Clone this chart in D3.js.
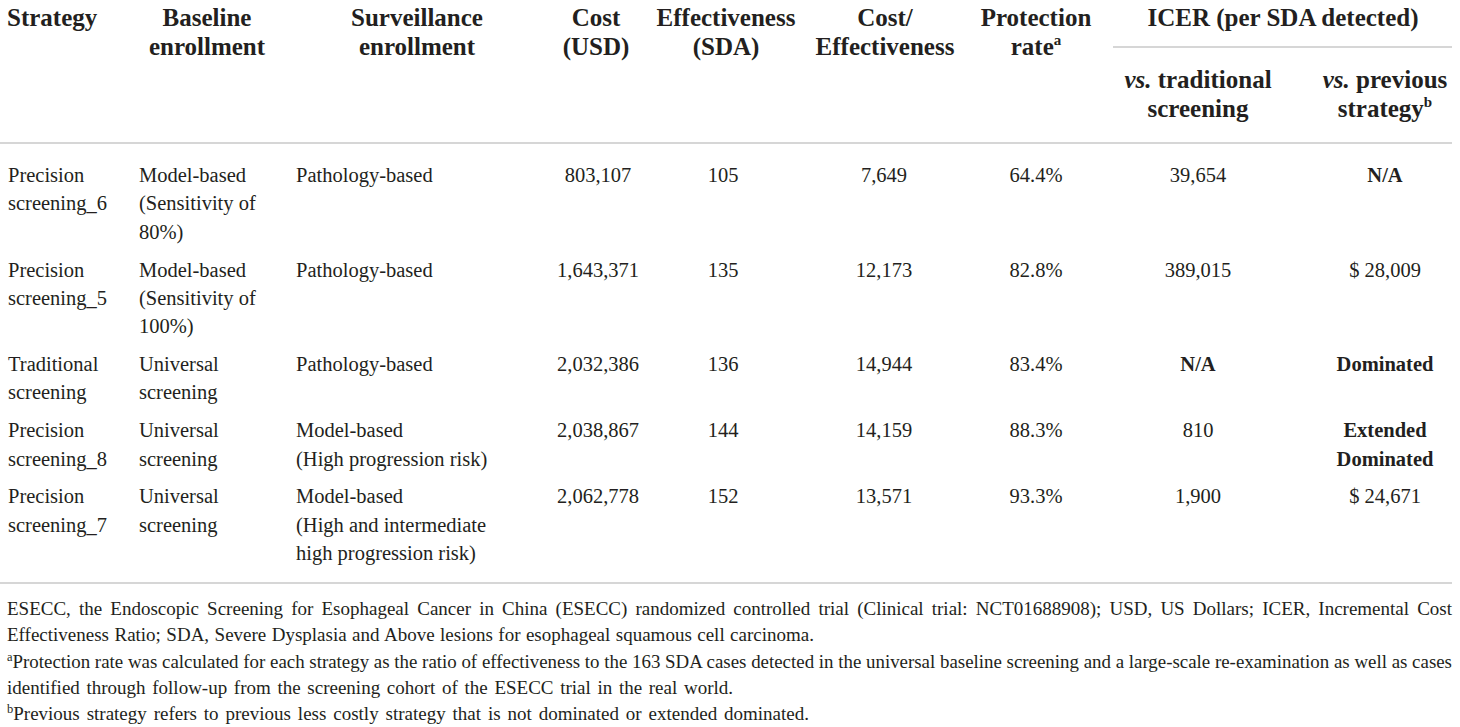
<!DOCTYPE html>
<html>
<head>
<meta charset="utf-8">
<script src="https://cdn.jsdelivr.net/npm/d3@7"></script>
<style>
  html, body { margin: 0; padding: 0; background: #fff; }
  svg { display: block; }
</style>
</head>
<body>
<svg id="chart" width="1460" height="727"></svg>
<script>
// ---------------- DATA ----------------
const strategies = ["Precision\nscreening_6", "Precision\nscreening_5", "Traditional\nscreening", "Precision\nscreening_8", "Precision\nscreening_7"];
const baselineEnrollment = ["Model-based\n(Sensitivity of\n80%)", "Model-based\n(Sensitivity of\n100%)", "Universal\nscreening", "Universal\nscreening", "Universal\nscreening"];
const surveillanceEnrollment = ["Pathology-based", "Pathology-based", "Pathology-based", "Model-based\n(High progression risk)", "Model-based\n(High and intermediate\nhigh progression risk)"];
const costUSD = [803107, 1643371, 2032386, 2038867, 2062778];
const effectivenessSDA = [105, 135, 136, 144, 152];
const costPerEffectiveness = [7649, 12173, 14944, 14159, 13571];
const protectionRate = [64.4, 82.8, 83.4, 88.3, 93.3];
const icerVsTraditional = [39654, 389015, "N/A", 810, 1900];
const icerVsPrevious = ["N/A", 28009, "Dominated", "Extended\nDominated", 24671];

const headerLabels = ["Strategy", "Baseline\nenrollment", "Surveillance\nenrollment", "Cost\n(USD)", "Effectiveness\n(SDA)", "Cost/\nEffectiveness", "Protection\nrate"];
const groupHeader = "ICER (per SDA detected)";
const subHeaders = ["vs.| traditional\nscreening", "vs.| previous\nstrategy"];
const footnotes = [
  {sup: "", text: "ESECC, the Endoscopic Screening for Esophageal Cancer in China (ESECC) randomized controlled trial (Clinical trial: NCT01688908); USD, US Dollars; ICER, Incremental Cost"},
  {sup: "", text: "Effectiveness Ratio; SDA, Severe Dysplasia and Above lesions for esophageal squamous cell carcinoma."},
  {sup: "a", text: "Protection rate was calculated for each strategy as the ratio of effectiveness to the 163 SDA cases detected in the universal baseline screening and a large-scale re-examination as well as cases"},
  {sup: "", text: "identified through follow-up from the screening cohort of the ESECC trial in the real world."},
  {sup: "b", text: "Previous strategy refers to previous less costly strategy that is not dominated or extended dominated."}
];

// ---------------- LAYOUT ----------------
const svg = d3.select("#chart");
const W = 1460;
const FONT = "'Liberation Serif', 'Times New Roman', serif";
const INK = "#231f20";
const RULE = "#c9c9c9";
const HEAD_SIZE = 25;

svg.append("rect").attr("width", W).attr("height", 727).attr("fill", "#fff");

const fmt = d3.format(",");
const fmtPct = d => d.toFixed(1) + "%";
const fmtMoney = d => "$ " + fmt(d);

// columns: x anchor and alignment
const colX = d3.scaleOrdinal()
  .domain(["strategy", "baseline", "surveillance", "cost", "eff", "ce", "prot", "icerT", "icerP"])
  .range([8, 139, 296, 598, 723, 884, 1036, 1198, 1385]);
const headX = d3.scaleOrdinal()
  .domain(["strategy", "baseline", "surveillance", "cost", "eff", "ce", "prot"])
  .range([7, 207, 417, 596, 726, 885, 1036]);
const headAnchor = ["start", "middle", "middle", "middle", "middle", "middle", "middle"];

const headerY = d3.scaleLinear().domain([0, 1]).range([26, 55]);
const lineH = 28.3, rowGap = 9.6, bodyTop = 182;

// ---------- header ----------
const headKeys = headX.domain();
headerLabels.forEach((lab, i) => {
  const lines = lab.split("\n");
  const t = svg.append("text")
    .attr("font-family", FONT).attr("font-weight", "bold").attr("font-size", HEAD_SIZE)
    .attr("fill", INK).attr("text-anchor", headAnchor[i]);
  lines.forEach((ln, j) => {
    t.append("tspan").attr("x", headX(headKeys[i])).attr("y", headerY(j)).text(ln);
    if (i === 6 && j === 1) {
      t.append("tspan").attr("font-size", 15).attr("dy", -10).text("a");
    }
  });
});

svg.append("text")
  .attr("font-family", FONT).attr("font-weight", "bold").attr("font-size", HEAD_SIZE)
  .attr("fill", INK).attr("text-anchor", "middle")
  .attr("x", 1283).attr("y", headerY(0)).text(groupHeader);

svg.append("line").attr("x1", 1113).attr("x2", 1452).attr("y1", 47).attr("y2", 47)
  .attr("stroke", RULE).attr("stroke-width", 1.5);

const subY = d3.scaleLinear().domain([0, 1]).range([88, 117]);
subHeaders.forEach((lab, i) => {
  const x = colX(i === 0 ? "icerT" : "icerP");
  const lines = lab.split("\n");
  const t = svg.append("text")
    .attr("font-family", FONT).attr("font-weight", "bold").attr("font-size", HEAD_SIZE)
    .attr("fill", INK).attr("text-anchor", "middle");
  lines.forEach((ln, j) => {
    if (ln.includes("|")) {
      const [it, rest] = ln.split("|");
      t.append("tspan").attr("x", x).attr("y", subY(j)).attr("font-style", "italic").text(it);
      t.append("tspan").text(rest);
    } else {
      t.append("tspan").attr("x", x).attr("y", subY(j)).text(ln);
      if (i === 1 && j === 1) t.append("tspan").attr("font-size", 15).attr("dy", -10).text("b");
    }
  });
});

svg.append("line").attr("x1", 0).attr("x2", 1452).attr("y1", 143).attr("y2", 143)
  .attr("stroke", RULE).attr("stroke-width", 1.5);

// ---------- body ----------
const rows = strategies.map((s, i) => ({
  cells: [
    {key: "strategy", text: s, anchor: "start"},
    {key: "baseline", text: baselineEnrollment[i], anchor: "start"},
    {key: "surveillance", text: surveillanceEnrollment[i], anchor: "start"},
    {key: "cost", text: fmt(costUSD[i]), anchor: "middle"},
    {key: "eff", text: String(effectivenessSDA[i]), anchor: "middle"},
    {key: "ce", text: fmt(costPerEffectiveness[i]), anchor: "middle"},
    {key: "prot", text: fmtPct(protectionRate[i]), anchor: "middle"},
    {key: "icerT", text: typeof icerVsTraditional[i] === "number" ? fmt(icerVsTraditional[i]) : icerVsTraditional[i],
      anchor: "middle", bold: typeof icerVsTraditional[i] !== "number"},
    {key: "icerP", text: typeof icerVsPrevious[i] === "number" ? fmtMoney(icerVsPrevious[i]) : icerVsPrevious[i],
      anchor: "middle", bold: typeof icerVsPrevious[i] !== "number"}
  ]
}));
let cursor = 0;
rows.forEach((r, i) => {
  r.nLines = d3.max(r.cells, c => c.text.split("\n").length);
  r.startLine = cursor;
  r.index = i;
  cursor += r.nLines;
});
const lineY = (row, j) => bodyTop + (row.startLine + j) * lineH + row.index * rowGap;

const rowG = svg.selectAll("g.row").data(rows).join("g").attr("class", "row");
rowG.each(function(r) {
  const g = d3.select(this);
  g.selectAll("text").data(r.cells).join("text")
    .attr("font-family", FONT).attr("font-size", 20.5).attr("fill", INK)
    .attr("font-weight", c => c.bold ? "bold" : "normal")
    .attr("text-anchor", c => c.anchor)
    .each(function(c) {
      const t = d3.select(this);
      c.text.split("\n").forEach((ln, j) => {
        t.append("tspan").attr("x", colX(c.key)).attr("y", lineY(r, j)).text(ln);
      });
    });
});

svg.append("line").attr("x1", 0).attr("x2", 1452).attr("y1", 583).attr("y2", 583)
  .attr("stroke", RULE).attr("stroke-width", 1.5);

// ---------- footnotes ----------
const footY = d3.scaleLinear().domain([0, 1]).range([615, 641.3]);
const footRight = [1452, 814, 1452, 733, 809];
footnotes.forEach((f, i) => {
  const t = svg.append("text")
    .attr("font-family", FONT).attr("font-size", 19).attr("fill", INK)
    .attr("x", 7).attr("y", footY(i));
  if (f.sup) {
    t.append("tspan").attr("font-size", 12.5).attr("dy", -7).text(f.sup);
    t.append("tspan").attr("dy", 7).text(f.text);
  } else {
    t.append("tspan").text(f.text);
  }
  const target = footRight[i] - 7;
  const natural = t.node().getComputedTextLength();
  const spaces = (f.text.match(/ /g) || []).length;
  if (natural < target) {
    t.attr("word-spacing", ((target - natural) / spaces).toFixed(3));
  } else {
    t.attr("textLength", target).attr("lengthAdjust", "spacingAndGlyphs");
  }
});
</script>
</body>
</html>
